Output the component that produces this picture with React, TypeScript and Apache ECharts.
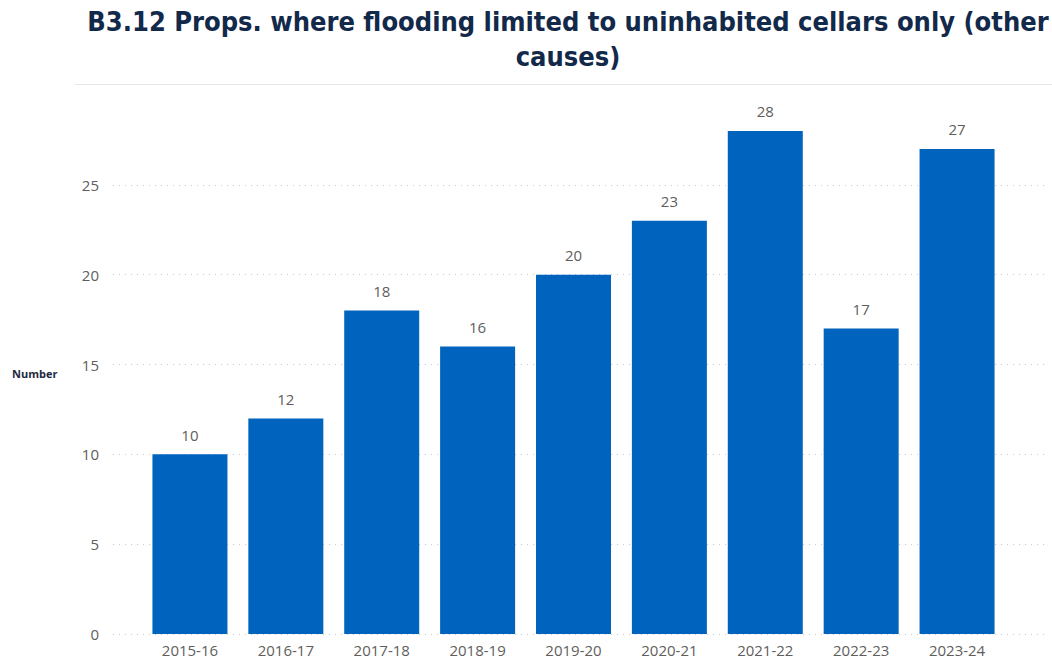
import React, { useEffect, useRef } from "react";
import * as echarts from "echarts";

const categories = ["2015-16", "2016-17", "2017-18", "2018-19", "2019-20", "2020-21", "2021-22", "2022-23", "2023-24"];
const values = [10, 12, 18, 16, 20, 23, 28, 17, 27];
const titleLines = ["B3.12 Props. where flooding limited to uninhabited cellars only (other", "causes)"];
const yAxisTitle = "Number";

const Y_MAX = 30;
const Y_INTERVAL = 5;

export default function App() {
  const ref = useRef<HTMLDivElement>(null);

  useEffect(() => {
    if (!ref.current) return;
    const chart = echarts.init(ref.current, null, { renderer: "svg" });
    const labelFont = "'Open Sans', 'Noto Sans', sans-serif";
    chart.setOption({
      animation: false,
      backgroundColor: "#ffffff",
      title: {
        text: titleLines.join("\n"),
        left: 563,
        top: -1,
        textAlign: "center",
        textStyle: {
          fontFamily: "'DejaVu Sans Condensed', 'DejaVu Sans', sans-serif",
          fontWeight: "bold",
          fontSize: 27,
          lineHeight: 35,
          color: "#12294a",
        },
      },
      graphic: [
        {
          type: "line",
          shape: { x1: 75, y1: 84.5, x2: 1052, y2: 84.5 },
          style: { stroke: "#e6e6e6", lineWidth: 1 },
        },
        {
          type: "text",
          left: 12,
          top: 368,
          style: {
            text: yAxisTitle,
            fontFamily: labelFont,
            fontWeight: "bold",
            fontSize: 11,
            fill: "#1f2a44",
          },
        },
      ],
      grid: [
        { left: 113, right: 8, top: 95, bottom: 29, containLabel: false },
        { left: 142, right: 47, top: 95, bottom: 29, containLabel: false },
      ],
      xAxis: [
        { gridIndex: 0, type: "category", data: categories, show: false },
        {
          gridIndex: 1,
          type: "category",
          data: categories,
          axisLine: { show: false },
          axisTick: { show: false },
          axisLabel: { color: "#605e5c", fontSize: 15, fontFamily: labelFont, margin: 8 },
        },
      ],
      yAxis: [
        {
          gridIndex: 0,
          type: "value",
          min: 0,
          max: Y_MAX,
          interval: Y_INTERVAL,
          axisLine: { show: false },
          axisTick: { show: false },
          axisLabel: {
            color: "#605e5c",
            fontSize: 15,
            fontFamily: labelFont,
            margin: 14,
            showMaxLabel: false,
          },
          splitLine: {
            show: true,
            showMaxLine: false,
            lineStyle: { color: "#c8c8c8", type: [1, 5], width: 1 },
          },
        },
        {
          gridIndex: 1,
          type: "value",
          min: 0,
          max: Y_MAX,
          interval: Y_INTERVAL,
          show: false,
          splitLine: { show: false },
        },
      ],
      series: [
        {
          type: "bar",
          xAxisIndex: 1,
          yAxisIndex: 1,
          data: values,
          barWidth: 75,
          itemStyle: { color: "#0063be" },
          label: {
            show: true,
            position: "top",
            distance: 12,
            color: "#605e5c",
            fontSize: 15,
            fontFamily: labelFont,
          },
        },
      ],
    });
    return () => chart.dispose();
  }, []);

  return <div ref={ref} style={{ width: 1052, height: 663, position: "fixed", left: 0, top: 0 }} />;
}
